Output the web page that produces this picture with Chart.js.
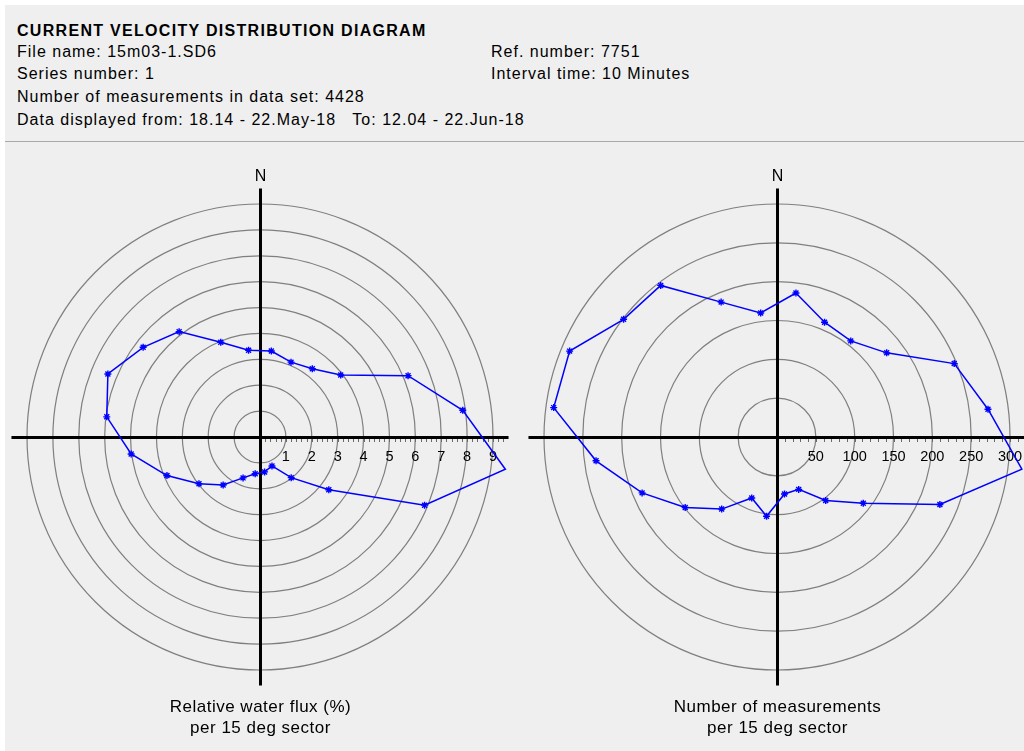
<!DOCTYPE html>
<html>
<head>
<meta charset="utf-8">
<script src="https://cdn.jsdelivr.net/npm/chart.js@4.4.1/dist/chart.umd.min.js"></script>
<style>
  html, body { margin: 0; padding: 0; background: #ffffff; }
  #page { position: relative; width: 1024px; height: 751px; overflow: hidden; background: #ffffff;
          font-family: "Liberation Sans", Arial, Helvetica, sans-serif; color: #000; }
  #panel { position: absolute; left: 5px; top: 5px; width: 1019px; height: 746px; background: #efefef; }
  #rule { position: absolute; left: 5px; top: 141px; width: 1019px; height: 1px; background: #a9a9a9; }
  .t { position: absolute; font-size: 16px; line-height: 16px; white-space: nowrap; letter-spacing: 1px; }
  .b { font-weight: bold; letter-spacing: 1.3px; }
  canvas { position: absolute; }
  #fluxCanvas { left: 0px; top: 150px; }
  #countCanvas { left: 517px; top: 150px; }
</style>
</head>
<body>
<div id="page">
  <div id="panel"></div>
  <div id="rule"></div>
  <div class="t b" style="left:17px; top:23px;">CURRENT VELOCITY DISTRIBUTION DIAGRAM</div>
  <div class="t" style="left:17px; top:44px;">File name: 15m03-1.SD6</div>
  <div class="t" style="left:17px; top:66px;">Series number: 1</div>
  <div class="t" style="left:17px; top:89px;">Number of measurements in data set: 4428</div>
  <div class="t" style="left:17px; top:112px;">Data displayed from: 18.14 - 22.May-18&nbsp;&nbsp;&nbsp;To: 12.04 - 22.Jun-18</div>
  <div class="t" style="left:491px; top:44px;">Ref. number: 7751</div>
  <div class="t" style="left:491px; top:66px;">Interval time: 10 Minutes</div>
  <canvas id="fluxCanvas" width="520" height="601"></canvas>
  <canvas id="countCanvas" width="520" height="601"></canvas>
</div>
<script>
// 15-degree direction sectors, clockwise from north
const sectors = ['0-15', '15-30', '30-45', '45-60', '60-75', '75-90',
                 '90-105', '105-120', '120-135', '135-150', '150-165', '165-180',
                 '180-195', '195-210', '210-225', '225-240', '240-255', '255-270',
                 '270-285', '285-300', '300-315', '315-330', '330-345', '345-360'];

// Relative water flux per sector (%)
const fluxPct = [3.35, 3.13, 3.32, 3.93, 6.19, 7.90,
                 9.56, 6.88, 3.35, 1.98, 1.21, 1.36,
                 1.43, 1.71, 2.34, 2.97, 3.89, 5.02,
                 5.97, 6.36, 5.69, 5.13, 3.96, 3.38];

// Number of measurements per sector
const measCount = [187, 160, 156, 178, 247, 274,
                   318, 227, 140, 103, 73, 74,
                   103, 85, 117, 149, 188, 235,
                   290, 289, 249, 246, 188, 161];

// Scale labels along the east axis
const fluxTicks = [1, 2, 3, 4, 5, 6, 7, 8, 9];
const countTicks = [50, 100, 150, 200, 250, 300];

const FONT = '"Liberation Sans", Arial, Helvetica, sans-serif';

// Draws the N-S / E-W cross, the minor ticks and labels on the east axis,
// the "N" marker and the caption under each rose.
const compassAxes = {
  id: 'compassAxes',
  beforeDatasetsDraw(chart, args, o) {
    const s = chart.scales.r;
    const ctx = chart.ctx;
    const cx = s.xCenter, cy = s.yCenter;
    const d = v => s.getDistanceFromCenterForValue(v);
    const ext = d(o.extent);
    ctx.save();

    // minor ticks below the east axis
    ctx.strokeStyle = '#6a6a6a';
    ctx.lineWidth = 1;
    ctx.beginPath();
    for (let i = 1; i * o.minorStep < o.extent - 1e-9; i++) {
      const x = Math.round(cx + d(i * o.minorStep)) + 0.5;
      ctx.moveTo(x, cy);
      ctx.lineTo(x, cy + 5);
    }
    ctx.stroke();

    // axis cross
    ctx.strokeStyle = '#000';
    ctx.lineWidth = 3;
    ctx.beginPath();
    ctx.moveTo(cx - ext, cy + 0.5);
    ctx.lineTo(cx + ext, cy + 0.5);
    ctx.moveTo(cx + 0.5, cy - ext);
    ctx.lineTo(cx + 0.5, cy + ext);
    ctx.stroke();

    // tick labels
    ctx.fillStyle = '#000';
    ctx.textAlign = 'center';
    ctx.textBaseline = 'middle';
    ctx.font = '14.5px ' + FONT;
    o.ticks.forEach(v => ctx.fillText(String(v), cx + d(v), cy + 20));

    // north marker
    ctx.textBaseline = 'alphabetic';
    ctx.font = '16px ' + FONT;
    ctx.fillText('N', cx + 0.5, cy - ext - 7);

    // caption
    ctx.font = '17px ' + FONT;
    if ('letterSpacing' in ctx) ctx.letterSpacing = '0.5px';
    o.caption.forEach((line, i) => ctx.fillText(line, cx + 0.5, cy + 275 + i * 21));

    ctx.restore();
  }
};

function rose(canvasId, values, maxValue, step, extent, minorStep, ticks, caption) {
  return new Chart(document.getElementById(canvasId), {
    type: 'radar',
    data: {
      labels: sectors,
      datasets: [{
        data: values,
        borderColor: '#0000ff',
        borderWidth: 1.5,
        backgroundColor: 'rgba(0,0,0,0)',
        fill: false,
        tension: 0,
        clip: false,
        pointStyle: 'star',
        pointRadius: 3.5,
        pointBorderColor: '#0000ff',
        pointBackgroundColor: '#0000ff',
        pointBorderWidth: 1.4
      }]
    },
    options: {
      responsive: false,
      animation: false,
      layout: { padding: { left: 27, right: 27, top: 54, bottom: 81 } },
      plugins: {
        legend: { display: false },
        tooltip: { enabled: false },
        compassAxes: { extent, minorStep, ticks, caption }
      },
      scales: {
        r: {
          min: 0,
          max: maxValue,
          startAngle: 7.5,
          ticks: { display: false, stepSize: step },
          grid: { circular: true, color: '#7f7f7f', lineWidth: 1.2 },
          angleLines: { display: false },
          pointLabels: { display: false }
        }
      }
    },
    plugins: [compassAxes]
  });
}

rose('fluxCanvas', fluxPct, 9, 1, 9.6, 0.2, fluxTicks,
     ['Relative water flux (%)', 'per 15 deg sector']);
rose('countCanvas', measCount, 300, 50, 320, 10, countTicks,
     ['Number of measurements', 'per 15 deg sector']);
</script>
</body>
</html>
